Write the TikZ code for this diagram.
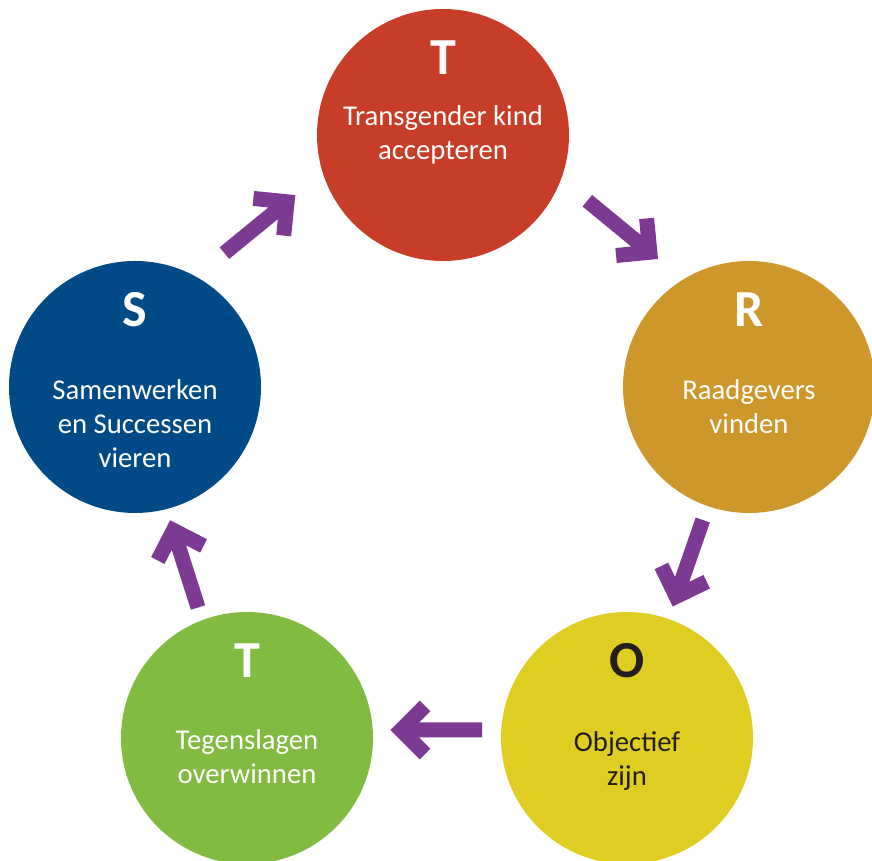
\documentclass[tikz,border=0pt]{standalone}
\usepackage{fontspec}
\setmainfont{Carlito}
\usepackage{xcolor}
\usepackage{tikz}
\usetikzlibrary{calc}

\definecolor{tred}{HTML}{C83D28}
\definecolor{rgold}{HTML}{CD972C}
\definecolor{oyellow}{HTML}{DFCE21}
\definecolor{tgreen}{HTML}{82BB42}
\definecolor{sblue}{HTML}{004A87}
\definecolor{flowpurple}{HTML}{7D3A92}
\definecolor{darktext}{HTML}{231F20}

\begin{document}
\begin{tikzpicture}[
    x=1pt, y=1pt,
    stage/.style={circle, draw=none, minimum size=252pt, inner sep=0pt},
    letter/.style={anchor=base, inner sep=0pt, text=white, font=\fontsize{52}{60}\selectfont\bfseries},
    caption/.style={anchor=base, inner sep=0pt, align=center, text=white, font=\fontsize{28.7}{34}\selectfont},
    dark/.style={text=darktext},
    flow/.style={draw=flowpurple, line width=15pt, line join=miter,
        /utils/exec={\pgfmathsetmacro\offA{#1}\pgfmathsetmacro\offB{#1+24}\pgfmathsetmacro\offC{#1-24}},
        to path={
            ($(\tikztostart)!0.5!(\tikztotarget)!-45pt!(\tikztotarget)!\offA pt!90:(\tikztotarget)$)
            -- ($(\tikztostart)!0.5!(\tikztotarget)!36pt!(\tikztotarget)!\offA pt!90:(\tikztotarget)$)
            ($(\tikztostart)!0.5!(\tikztotarget)!12pt!(\tikztotarget)!\offB pt!90:(\tikztotarget)$)
            -- ($(\tikztostart)!0.5!(\tikztotarget)!36pt!(\tikztotarget)!\offA pt!90:(\tikztotarget)$)
            -- ($(\tikztostart)!0.5!(\tikztotarget)!12pt!(\tikztotarget)!\offC pt!90:(\tikztotarget)$)
        }},
    flow/.default=0
]
    \useasboundingbox (0,0) rectangle (872,861);
    \clip (0,0) rectangle (872,861);

    % T - Transgender kind accepteren
    \node[stage, fill=tred] (trans) at (443,726) {};
    \node[letter] (transL) at ([yshift=60pt]trans.center) {T};
    \node[caption] (transC) at ([yshift=-25pt]trans.center) {Transgender kind\\accepteren};

    % R - Raadgevers vinden
    \node[stage, fill=rgold] (raad) at (749,474) {};
    \node[letter] (raadL) at ([yshift=60pt]raad.center) {R};
    \node[caption] (raadC) at ([yshift=-47pt]raad.center) {Raadgevers\\vinden};

    % O - Objectief zijn
    \node[stage, fill=oyellow] (obj) at (627,123) {};
    \node[letter, dark] (objL) at ([yshift=60pt]obj.center) {O};
    \node[caption, dark] (objC) at ([yshift=-48pt]obj.center) {Objectief\\zijn};

    % T - Tegenslagen overwinnen
    \node[stage, fill=tgreen] (tegen) at (247,123) {};
    \node[letter] (tegenL) at ([yshift=60pt]tegen.center) {T};
    \node[caption] (tegenC) at ([yshift=-46pt]tegen.center) {Tegenslagen\\overwinnen};

    % S - Samenwerken en Successen vieren
    \node[stage, fill=sblue] (samen) at (135,474) {};
    \node[letter] (samenL) at ([yshift=60pt]samen.center) {S};
    \node[caption] (samenC) at ([yshift=-81pt]samen.center) {Samenwerken\\en Successen\\vieren};

    % cycle arrows
    \draw[flow=47] (samen) to (trans);
    \draw[flow=41] (trans) to (raad);
    \draw[flow] (raad) to (obj);
    \draw[flow=-8] (obj) to (tegen);
    \draw[flow=7] (tegen) to (samen);
\end{tikzpicture}
\end{document}
